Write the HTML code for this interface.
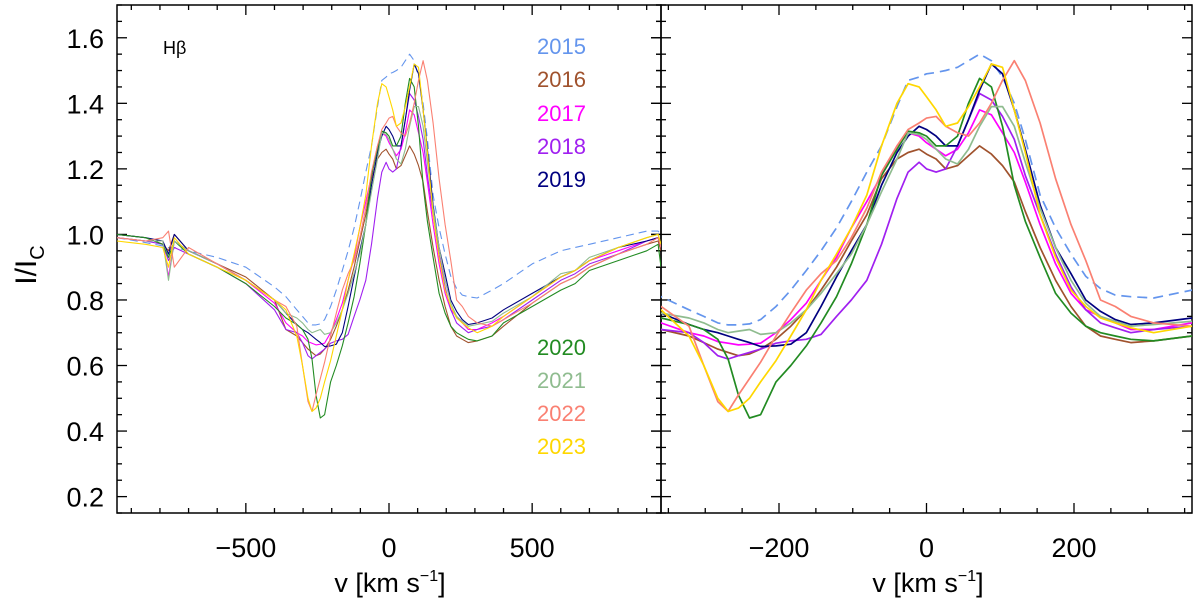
<!DOCTYPE html>
<html><head><meta charset="utf-8"><style>
body{margin:0;background:#fff;}
svg{display:block;font-family:"Liberation Sans",sans-serif;}
</style></head><body>
<svg id="chart" width="1200" height="609">
<defs>
<clipPath id="clipL"><rect x="117" y="5" width="544" height="508"/></clipPath>
<clipPath id="clipR"><rect x="661" y="5" width="531" height="508"/></clipPath>
</defs>
<g id="axes"></g>
<g id="series"></g>
<text x="163" y="54" font-size="18">Hβ</text>
<text transform="translate(36,265) rotate(-90)" font-size="30" text-anchor="middle">I/I<tspan font-size="20" dy="8">C</tspan></text>
<text x="390" y="592" font-size="27" text-anchor="middle">v [km s<tspan font-size="16" dy="-11">−1</tspan><tspan dy="11">]</tspan></text>
<text x="928" y="592" font-size="27" text-anchor="middle">v [km s<tspan font-size="16" dy="-11">−1</tspan><tspan dy="11">]</tspan></text>
</svg>
<script>
const years = ["2015","2016","2017","2018","2019","2020","2021","2022","2023"];
const colors = ["#6495ED","#A0522D","#FF00FF","#A020F0","#000080","#228B22","#8FBC8F","#FA8072","#FFD700"];
const velocity = [-950,-850,-790,-770,-750,-700,-600,-500,-400,-360,-322,-302,-283,-269,-255,-240,-225,-204,-184,-163,-143,-122,-102,-81,-61,-40,-25,-10,0,13,26,42,57,72,88,103,119,134,154,175,196,216,236,256,277,308,360,400,500,600,650,700,800,900,940,950];
const s2015 = [0.99,0.975,0.965,0.96,0.96,0.95,0.93,0.90,0.84, .81,.77,.75,.73,.724,.724,.727,.74,.78,.83,.89,.95,1.02,1.10,1.19,1.27,1.39,1.47,1.48,1.49,1.494,1.50,1.51,1.53,1.55,1.53,1.48,1.40,1.29,1.12,1.02,0.94,0.872,0.835,0.815,0.81,0.806,0.83, 0.85,0.91,0.95,0.96,0.97,0.99,1.01,1.01,1.0];
const s2016 = [1.0,0.99,0.97,0.95,1.0,0.95,0.91,0.87,0.80, .71,.69,.67,.65,.64,.63,.635,.65,.68,.72,.77,.83,.90,.98,1.06,1.17,1.23,1.25,1.26,1.245,1.23,1.20,1.21,1.24,1.27,1.245,1.21,1.16,1.07,.96,.86,.78,.72,.69,.68,.67,.675,.69, 0.72,0.79,0.85,0.87,0.90,0.94,0.97,0.98,0.95];
const s2017 = [0.99,0.98,0.98,0.87,0.98,0.95,0.91,0.86,0.79, .73,.70,.69,.673,.668,.663,.665,.668,.70,.74,.79,.86,.93,1.02,1.10,1.18,1.27,1.31,1.30,1.28,1.26,1.24,1.26,1.31,1.38,1.365,1.31,1.25,1.16,1.03,.91,.82,.77,.75,.73,.71,.71,.73, 0.75,0.81,0.87,0.89,0.92,0.95,0.98,0.99,0.96];
const s2018 = [0.99,0.98,0.97,0.92,0.96,0.94,0.90,0.85,0.77, .71,.70,.67,.63,.62,.63,.64,.65,.668,.675,.68,.695,.75,.80,.86,.97,1.11,1.19,1.22,1.20,1.19,1.20,1.27,1.35,1.43,1.41,1.36,1.29,1.18,1.06,.94,.84,.77,.73,.715,.70,.71,.72, 0.74,0.80,0.86,0.88,0.91,0.94,0.98,0.99,0.96];
const s2019 = [1.0,0.99,0.98,0.94,1.0,0.95,0.91,0.86,0.80, .76,.725,.71,.70,.69,.68,.67,.658,.66,.665,.70,.78,.87,.95,1.03,1.15,1.25,1.30,1.33,1.32,1.30,1.27,1.27,1.35,1.44,1.52,1.49,1.38,1.26,1.09,.96,.88,.80,.765,.74,.725,.73,.745, 0.77,0.82,0.87,0.89,0.92,0.96,0.98,0.99,0.96];
const s2020 = [1.0,0.99,0.97,0.93,0.98,0.94,0.90,0.85,0.78, .745,.725,.71,.68,.62,.51,.44,.45,.55,.60,.66,.73,.81,.91,1.03,1.18,1.26,1.315,1.31,1.30,1.27,1.27,1.30,1.40,1.476,1.45,1.33,1.15,1.04,.93,.82,.76,.72,.70,.69,.68,.675,.69, 0.73,0.78,0.83,0.85,0.89,0.92,0.95,0.97,0.90];
const s2021 = [0.99,0.98,0.98,0.86,0.98,0.95,0.91,0.86,0.80, .76,.745,.73,.71,.70,.705,.71,.695,.70,.73,.77,.82,.88,.94,1.03,1.13,1.23,1.31,1.305,1.29,1.26,1.23,1.215,1.26,1.33,1.39,1.39,1.33,1.22,1.08,.96,.86,.79,.75,.735,.72,.725,.735, 0.76,0.81,0.88,0.89,0.93,0.96,0.99,1.0,0.97];
const s2022 = [0.99,0.98,0.99,1.01,0.90,0.96,0.91,0.86,0.80, .78,.72,.60,.49,.46,.51,.56,.61,.69,.76,.83,.88,.92,.99,1.08,1.19,1.27,1.32,1.34,1.355,1.36,1.33,1.31,1.30,1.34,1.40,1.47,1.53,1.47,1.34,1.17,1.03,.92,.80,.78,.75,.73,.72, 0.74,0.79,0.85,0.87,0.90,0.94,0.97,0.99,0.96];
const s2023 = [0.98,0.97,0.96,0.90,0.99,0.94,0.90,0.86,0.80, .77,.69,.60,.50,.46,.47,.50,.55,.615,.69,.77,.86,.94,1.02,1.12,1.27,1.40,1.46,1.45,1.42,1.38,1.33,1.34,1.39,1.45,1.52,1.51,1.38,1.25,1.06,.93,.83,.78,.745,.73,.715,.70,.72, 0.75,0.81,0.87,0.89,0.92,0.96,0.99,1.0,0.97];
const seriesValues = [s2015,s2016,s2017,s2018,s2019,s2020,s2021,s2022,s2023];
const yTicks = [0.2,0.4,0.6,0.8,1.0,1.2,1.4,1.6];
const xTicksLeft = [-500,0,500];
const xTicksRight = [-200,0,200];

const NS="http://www.w3.org/2000/svg";
const Y0=513, Y1=5, yMin=0.15, yMax=1.7;
const yScale=v=>Y0-(v-yMin)/(yMax-yMin)*(Y0-Y1);
const panels=[
 {x0:117,x1:661,vmin:-950,vmax:950,minor:100,ticks:xTicksLeft,clip:"clipL",w:1.1,name:"left"},
 {x0:661,x1:1192,vmin:-360,vmax:360,minor:50,ticks:xTicksRight,clip:"clipR",w:1.7,name:"right"}
];
function mk(tag,attrs,parent){const e=document.createElementNS(NS,tag);for(const k in attrs)e.setAttribute(k,attrs[k]);parent.appendChild(e);return e;}
const axes=document.getElementById("axes"), sg=document.getElementById("series");
panels.forEach(p=>{
  const xs=v=>p.x0+(v-p.vmin)/(p.vmax-p.vmin)*(p.x1-p.x0);
  const fr=mk("rect",{x:p.x0,y:Y1,width:p.x1-p.x0,height:Y0-Y1,fill:"none",stroke:"#000","stroke-width":1.5},axes);
  
  
  for(let v=Math.ceil(p.vmin/p.minor)*p.minor; v<=p.vmax; v+=p.minor){
    const major=p.ticks.includes(v), L=major?10:5, x=xs(v);
    mk("line",{x1:x,x2:x,y1:Y0,y2:Y0-L,stroke:"#000","stroke-width":1.3},axes);
    mk("line",{x1:x,x2:x,y1:Y1,y2:Y1+L,stroke:"#000","stroke-width":1.3},axes);
  }
  p.ticks.forEach(v=>{
    const t=mk("text",{x:xs(v),y:557,"font-size":27,"text-anchor":"middle"},axes);
    t.textContent=(v<0?"−":"")+Math.abs(v);
    
    
  });
  for(let k=0;k<=31;k++){
    const v=0.15+k*0.05; if(v>1.701)break;
    const major=yTicks.some(t=>Math.abs(t-v)<1e-6), L=major?10:5, y=yScale(v);
    mk("line",{x1:p.x0,x2:p.x0+L,y1:y,y2:y,stroke:"#000","stroke-width":1.3},axes);
    if(p.name==="right") mk("line",{x1:p.x0,x2:p.x0-L,y1:y,y2:y,stroke:"#000","stroke-width":1.3},axes);
    mk("line",{x1:p.x1,x2:p.x1-L,y1:y,y2:y,stroke:"#000","stroke-width":1.3},axes);
  }
  years.forEach((yr,i)=>{
    const vals=seriesValues[i];
    const d=velocity.map((v,j)=>(j?"L":"M")+xs(v).toFixed(1)+","+yScale(vals[j]).toFixed(1)).join("");
    const path=mk("path",{d:d,fill:"none",stroke:colors[i],"stroke-width":p.w,"stroke-linejoin":"round","clip-path":"url(#"+p.clip+")"},sg);
    if(i===0) path.setAttribute("stroke-dasharray", p.name==="left"?"8,5":"10,6");
    
    
  });
});
yTicks.forEach(v=>{
  const t=mk("text",{x:104,y:yScale(v)+10,"font-size":27,"text-anchor":"end"},axes);
  t.textContent=v.toFixed(1);
  
  
});
const legendY=[46,79,113,146,179,347,380,413,446];
years.forEach((yr,i)=>{
  const t=mk("text",{x:586,y:legendY[i]+8,"font-size":22,"text-anchor":"end",fill:colors[i]},axes);
  t.textContent=yr;
  
  
});
</script>
</body></html>
